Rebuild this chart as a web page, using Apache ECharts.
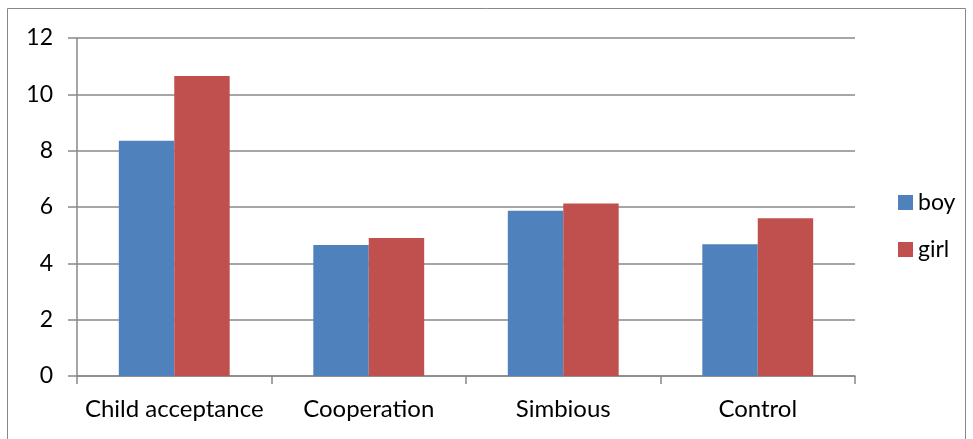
<!DOCTYPE html>
<html><head><meta charset="utf-8">
<script src="https://cdn.jsdelivr.net/npm/echarts@6/dist/echarts.min.js"></script>
<style>html,body{margin:0;padding:0;background:#fff}#c{width:973px;height:439px}</style>
</head><body><div id="c"></div>
<script>
const categories = ['Child acceptance', 'Cooperation', 'Simbious', 'Control'];
const boy = [8.35, 4.65, 5.87, 4.68];
const girl = [10.65, 4.9, 6.12, 5.6];
const yTicks = [0, 2, 4, 6, 8, 10, 12];

const chart = echarts.init(document.getElementById('c'));
const font = 'Lato, "Open Sans", sans-serif';
chart.setOption({
  animation: false,
  graphic: [{type:'rect', shape:{x:7.5,y:8.5,width:958,height:440}, style:{fill:'none', stroke:'#888', lineWidth:1}}],
  grid: {left: 77, right: 118, top: 38, bottom: 63},
  legend: {
    orient: 'vertical', left: 893, top: 186, itemWidth: 15, itemHeight: 15, itemGap: 24,
    icon: 'rect', padding: 5,
    textStyle: {fontFamily: font, fontSize: 23, color: '#000'},
    data: ['boy', 'girl']
  },
  xAxis: {
    type: 'category', data: categories,
    axisLine: {lineStyle: {color: '#888', width: 1.5}},
    axisTick: {show: true, interval: 0, length: 8, lineStyle: {color: '#888', width: 1.5}, alignWithLabel: false},
    axisLabel: {interval: 0, fontFamily: font, fontSize: 24, color: '#000', margin: 21}
  },
  yAxis: {
    type: 'value', min: yTicks[0], max: yTicks[yTicks.length-1], interval: 2,
    axisLine: {show: true, lineStyle: {color: '#888', width: 1.5}},
    axisTick: {show: true, inside: false, length: 9, lineStyle: {color: '#888', width: 1.5}},
    splitLine: {lineStyle: {color: '#888', width: 1.5}},
    axisLabel: {fontFamily: font, fontSize: 23, color: '#000', margin: 24}
  },
  series: [
    {name: 'boy', type: 'bar', data: boy, barGap: '0%', barCategoryGap: '43%', itemStyle: {color: '#4F81BD'}},
    {name: 'girl', type: 'bar', data: girl, barGap: '0%', barCategoryGap: '43%', itemStyle: {color: '#C0504D'}}
  ]
});
</script></body></html>
